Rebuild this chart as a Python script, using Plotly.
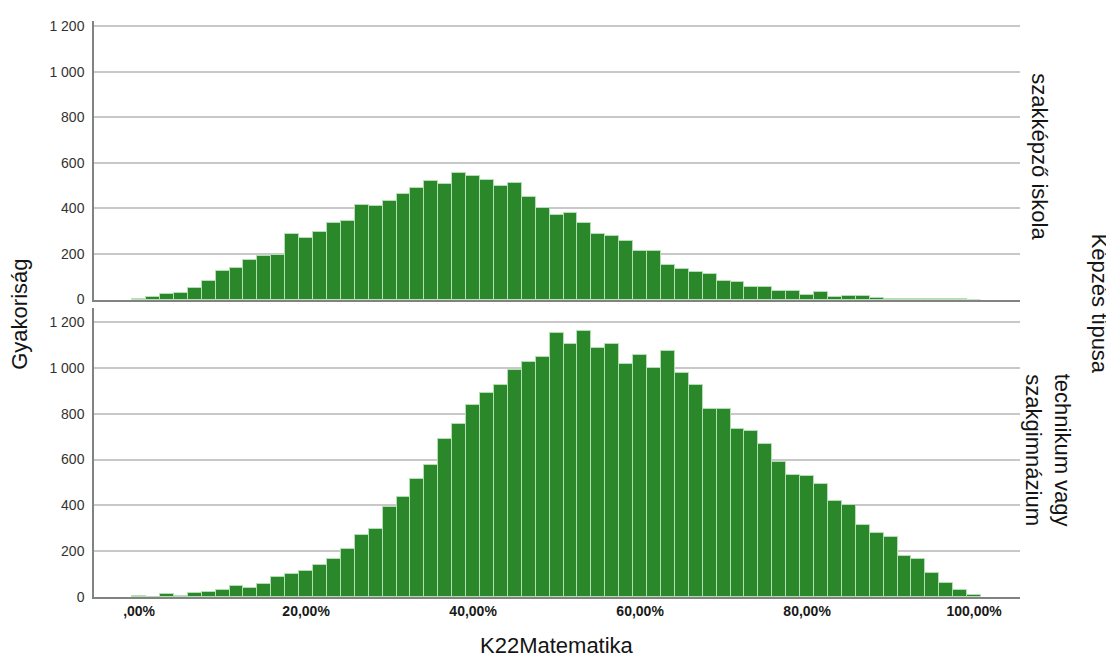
import plotly.graph_objects as go

# Bin layout: scores are k/60 (0..60), shown in percent
n_bins = 61
bin_width = 100 / 60
bin_centers = [i * bin_width for i in range(n_bins)]

# Frequencies per bin
counts_szakkepzo = [3, 10, 23, 29, 52, 83, 125, 138, 174, 190,
                    196, 290, 270, 296, 338, 346, 414, 409, 432, 462,
                    488, 520, 509, 557, 541, 523, 500, 513, 452, 404,
                    370, 381, 336, 290, 281, 258, 214, 212, 152, 132,
                    120, 112, 83, 75, 57, 57, 39, 36, 22, 32,
                    12, 16, 16, 7, 4, 2, 2, 1, 1, 1, 0]
counts_technikum = [3, 2, 15, 6, 19, 22, 32, 48, 38, 57,
                    89, 100, 113, 140, 167, 209, 272, 297, 391, 435,
                    513, 576, 691, 756, 836, 889, 924, 989, 1024, 1049,
                    1151, 1103, 1161, 1088, 1105, 1017, 1055, 1001, 1075, 977,
                    925, 819, 819, 732, 724, 666, 591, 532, 527, 495,
                    419, 400, 313, 278, 263, 179, 164, 103, 60, 29, 7]

facet_labels = ["szakképző iskola", "technikum vagy<br>szakgimnázium"]
x_tick_vals = [0, 20, 40, 60, 80, 100]
x_tick_text = [",00%", "20,00%", "40,00%", "60,00%", "80,00%", "100,00%"]
y_tick_vals = [0, 200, 400, 600, 800, 1000, 1200]
y_tick_text = ["0", "200", "400", "600", "800", "1 000", "1 200"]

x_title = "K22Matematika"
y_title = "Gyakoriság"
facet_title = "Képzés típusa"

FONT = "Liberation Sans, Arial, sans-serif"
BAR_FILL = "rgb(42,135,42)"
BAR_EDGE = "rgb(180,222,180)"
GRID = "rgb(200,200,200)"
AXIS = "rgb(130,130,130)"
TXT = "rgb(20,20,20)"

fig = go.Figure()
fig.add_trace(go.Bar(x=bin_centers, y=counts_szakkepzo, width=bin_width,
                     marker=dict(color=BAR_FILL, line=dict(color=BAR_EDGE, width=1)),
                     xaxis="x", yaxis="y", showlegend=False, hoverinfo="x+y"))
fig.add_trace(go.Bar(x=bin_centers, y=counts_technikum, width=bin_width,
                     marker=dict(color=BAR_FILL, line=dict(color=BAR_EDGE, width=1)),
                     xaxis="x2", yaxis="y2", showlegend=False, hoverinfo="x+y"))

xrange = [-5.4, 105.5]
common_x = dict(range=xrange, showgrid=False, zeroline=False, showline=True,
                linecolor=AXIS, linewidth=1.5, ticks="", mirror=False)
common_y = dict(showgrid=True, gridcolor=GRID, gridwidth=1.5, zeroline=False,
                showline=True, linecolor=AXIS, linewidth=1.5, ticks="",
                tickvals=y_tick_vals, ticktext=y_tick_text, ticklabelstandoff=5,
                tickfont=dict(family=FONT, size=14, color="rgb(50,50,50)"))

# The page body adds an 8px offset; size the figure so the plot lands where the reference has it
fig.update_layout(
    width=1106, height=652,
    margin=dict(l=86, r=94, t=10, b=63),
    paper_bgcolor="white", plot_bgcolor="white",
    bargap=0,
    font=dict(family=FONT, color="black"),
    xaxis=dict(**common_x, domain=[0, 1], anchor="y", showticklabels=False,
               matches="x2"),
    yaxis=dict(**common_y, domain=[0.5164, 1.0], range=[0, 1223], anchor="x"),
    xaxis2=dict(**common_x, domain=[0, 1], anchor="y2",
                tickvals=x_tick_vals, ticktext=x_tick_text,
                tickfont=dict(family=FONT, size=14, color="rgb(25,25,25)", weight="bold")),
    yaxis2=dict(**common_y, domain=[0.0, 0.5017], range=[0, 1261], anchor="x2"),
)

title_font = dict(family=FONT, size=22, color=TXT)
annotations = [
    dict(text=x_title, x=0.5, y=-0.1075, xref="paper", yref="paper",
         showarrow=False, font=title_font, xanchor="center", yanchor="bottom",
         borderpad=0),
    dict(text=y_title, x=-0.0799, y=0.49, xref="paper", yref="paper", textangle=-90,
         showarrow=False, font=title_font, xanchor="center", yanchor="middle"),
    dict(text=facet_labels[0], x=1.0216, y=0.765, xref="paper", yref="paper",
         textangle=90, showarrow=False, font=title_font,
         xanchor="center", yanchor="middle"),
    dict(text=facet_labels[1], x=1.0302, y=0.254, xref="paper", yref="paper",
         textangle=90, showarrow=False, font=title_font,
         xanchor="center", yanchor="middle"),
    dict(text=facet_title, x=1.1008, y=0.5095, xref="paper", yref="paper",
         textangle=90, showarrow=False, font=title_font,
         xanchor="right", yanchor="middle", borderpad=0),
]
fig.update_layout(annotations=annotations)

fig.write_html("out.html")
